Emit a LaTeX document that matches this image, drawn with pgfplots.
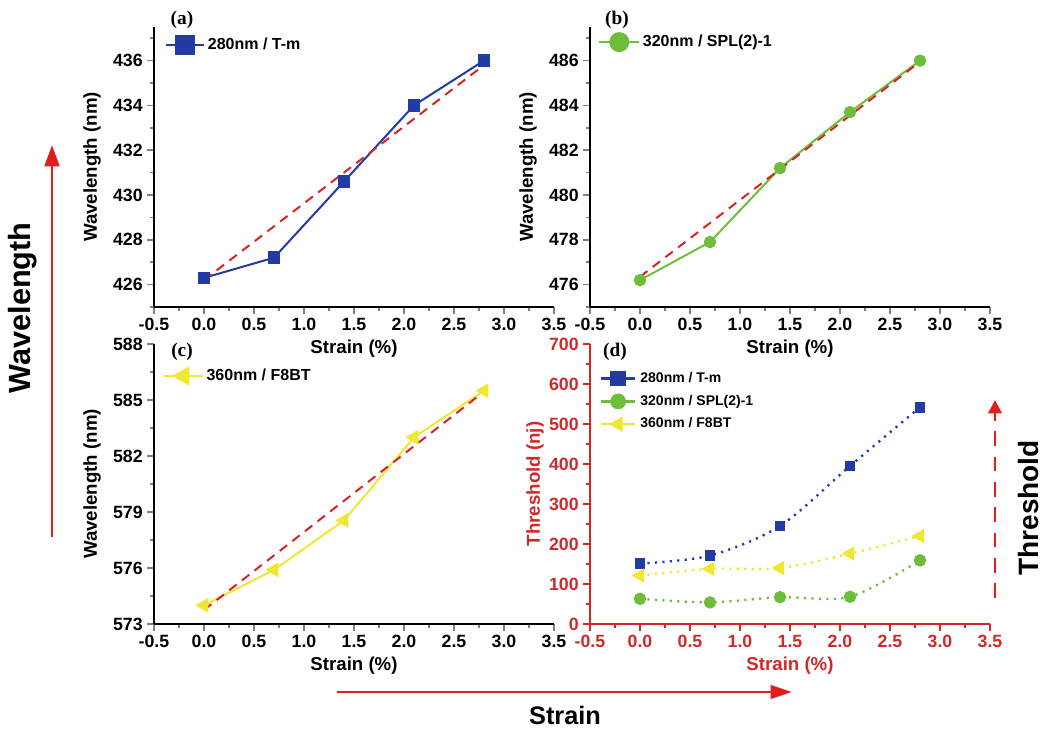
\documentclass[border=0pt]{standalone}
\usepackage{fontspec}
\setmainfont{Liberation Sans}
\newfontfamily\serifbf{Liberation Serif}
\usepackage{pgfplots}
\pgfplotsset{compat=1.18}
\usetikzlibrary{arrows.meta}

\definecolor{myblue}{RGB}{35,60,165}
\definecolor{mygreen}{RGB}{110,190,60}
\definecolor{myyellow}{RGB}{238,232,50}
\definecolor{myred}{RGB}{215,35,35}
\definecolor{axred}{RGB}{210,40,40}

\pgfplotsset{
 panel/.style={
  scale only axis, width=300pt, height=210pt,
  axis x line*=bottom, axis y line*=left,
  axis line style={line width=1.8pt},
  tick align=outside,
  major tick length=5pt, minor tick length=3pt,
  tick style={line width=1.3pt},
  xmin=-0.5, xmax=3.5,
  xtick={-0.5,0,0.5,1,1.5,2,2.5,3,3.5},
  minor xtick={-0.25,0.25,0.75,1.25,1.75,2.25,2.75,3.25},
  xticklabel style={/pgf/number format/.cd, fixed, fixed zerofill, precision=1},
  /pgf/number format/assume math mode=true,
  tick label style={font=\fontsize{13.3}{15}\selectfont\bfseries},
  label style={font=\fontsize{14}{16}\selectfont\bfseries},
  xlabel={Strain (\%)},
  x label style={at={(axis description cs:0.5,-0.148)}, anchor=center},
  y label style={at={(axis description cs:-0.155,0.5)}, anchor=center},
  clip=false,
  legend style={draw=none, fill=none, inner sep=0pt, font=\fontsize{12}{14}\selectfont\bfseries},
  legend cell align=left,
 },
 legimg/.style 2 args={legend image code/.code={
  \draw[##1, solid] (0pt,0pt) -- (#1,0pt);
  \draw[##1, solid, mark size=#2] plot coordinates {(#1/2,0pt)};
 }},
}

\begin{document}
\begin{tikzpicture}
\path[use as bounding box] (0pt,0pt) rectangle (781.5pt,547.5pt);

% (a)
\begin{axis}[panel, at={(115.5pt,317.25pt)}, anchor=south west,
  ymin=425, ymax=437.5, ytick={426,428,...,436}, minor ytick={425,427,...,437},
  ylabel={Wavelength (nm)},
  legimg={28.5pt}{6.75pt},
  legend style={at={(axis description cs:0.0275,0.936)}, anchor=west}]
\addplot[myblue, line width=1.5pt, mark=square*, mark size=4pt] coordinates {
 (0,426.3) (0.7,427.2) (1.4,430.6) (2.1,434.0) (2.8,436.0)};
\addlegendentry{280nm / T-m}
\addplot[myred, line width=1.5pt, dash pattern=on 7pt off 5pt, forget plot] coordinates {(0,426.2) (2.8,435.8)};
\end{axis}

% (b)
\begin{axis}[panel, at={(442.5pt,317.25pt)}, anchor=south west,
  ymin=475, ymax=487.5, ytick={476,478,...,486}, minor ytick={475,477,...,487},
  ylabel={Wavelength (nm)},
  legimg={30pt}{6.75pt},
  legend style={at={(axis description cs:0.02,0.946)}, anchor=west}]
\addplot[mygreen, line width=1.5pt, mark=*, mark size=3.9pt] coordinates {
 (0,476.2) (0.7,477.9) (1.4,481.2) (2.1,483.7) (2.8,486.0)};
\addlegendentry{320nm / SPL(2)-1}
\addplot[myred, line width=1.5pt, dash pattern=on 7pt off 5pt, forget plot] coordinates {(0,476.35) (2.8,485.95)};
\end{axis}

% (c)
\begin{axis}[panel, at={(115.5pt,79.5pt)}, anchor=south west,
  ymin=573, ymax=588, ytick={573,576,...,588}, minor ytick={574.5,577.5,...,586.5},
  ylabel={Wavelength (nm)},
  legimg={29pt}{7pt},
  legend style={at={(axis description cs:0.0225,0.886)}, anchor=west}]
\addplot[myyellow, line width=1.5pt, mark=triangle*, mark size=5pt, mark options={rotate=90}] coordinates {
 (0,574.0) (0.7,575.9) (1.4,578.55) (2.1,583.0) (2.8,585.5)};
\addlegendentry{360nm / F8BT}
\addplot[myred, line width=1.5pt, dash pattern=on 7pt off 5pt, forget plot] coordinates {(0,573.75) (2.8,585.45)};
\end{axis}

% (d)
\begin{axis}[panel, at={(442.5pt,79.5pt)}, anchor=south west,
  axis line style={axred, line width=1.8pt},
  tick style={axred, line width=1.3pt},
  tick label style={text=axred},
  label style={text=axred},
  ymin=0, ymax=700, ytick={0,100,...,700}, minor ytick={50,150,...,650},
  ylabel={Threshold (nj)},
  y label style={at={(axis description cs:-0.1375,0.5)}, anchor=center},
  legimg={25pt}{5pt},
  legend style={at={(axis description cs:0.025,0.795)}, anchor=west,
    font=\fontsize{10.5}{12}\selectfont\bfseries,
    nodes={text height=8pt, text depth=2.5pt, inner sep=3.3pt}}]
\addplot[myblue, line width=1.8pt, dash pattern=on 1.6pt off 4pt, smooth, tension=0.5,
  mark=square*, mark size=3.2pt, mark options={solid}] coordinates {
 (0,151) (0.7,171) (1.4,245) (2.1,395) (2.8,542)};
\addlegendentry{280nm / T-m}
\addplot[mygreen, line width=1.8pt, dash pattern=on 1.6pt off 4pt, smooth, tension=0.5,
  mark=*, mark size=3.75pt, mark options={solid}] coordinates {
 (0,63) (0.7,54) (1.4,67) (2.1,68) (2.8,159)};
\addlegendentry{320nm / SPL(2)-1}
\addplot[myyellow, line width=1.8pt, dash pattern=on 1.6pt off 4pt, smooth, tension=0.5,
  mark=triangle*, mark size=4.5pt, mark options={solid, rotate=90}] coordinates {
 (0,121) (0.7,138) (1.4,140) (2.1,176) (2.8,220)};
\addlegendentry{360nm / F8BT}
\end{axis}

% panel labels
\node[font=\serifbf\bfseries\fontsize{14.5}{16}\selectfont] at (136.5pt,532.5pt) {(a)};
\node[font=\serifbf\bfseries\fontsize{14.5}{16}\selectfont] at (462.75pt,532.5pt) {(b)};
\node[font=\serifbf\bfseries\fontsize{14.5}{16}\selectfont] at (136.5pt,283.5pt) {(c)};
\node[font=\serifbf\bfseries\fontsize{14.5}{16}\selectfont] at (461.25pt,283.5pt) {(d)};

% annotations
\definecolor{arrred}{RGB}{225,30,30}
\draw[arrred, line width=2.2pt, -{Triangle[length=16pt,width=11pt]}] (39pt,144.75pt) -- (39pt,438.75pt);
\node[font=\fontsize{23}{26}\selectfont\bfseries, rotate=90] at (17.25pt,316.5pt) {Wavelength};
\draw[arrred, line width=2.2pt, -{Triangle[length=16pt,width=10pt]}] (252.75pt,28.5pt) -- (594pt,28.5pt);
\node[font=\fontsize{19}{22}\selectfont\bfseries, anchor=base] at (423.75pt,3.75pt) {Strain};
\draw[arrred, line width=2.2pt, dash pattern=on 11pt off 8pt, -{Triangle[length=10pt,width=10pt]}] (746.25pt,99pt) -- (746.25pt,247.5pt);
\node[font=\fontsize{21}{24}\selectfont\bfseries, rotate=90] at (771pt,166.5pt) {Threshold};
\end{tikzpicture}
\end{document}
